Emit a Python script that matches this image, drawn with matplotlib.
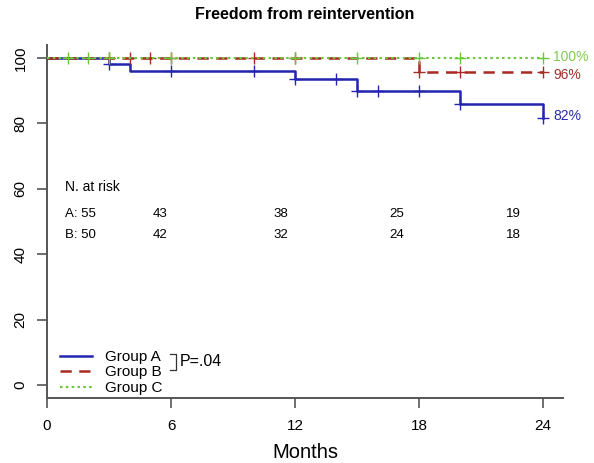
import matplotlib
matplotlib.use("Agg")
import matplotlib.pyplot as plt
from matplotlib.lines import Line2D

plt.rcParams['font.family'] = ['Liberation Sans', 'DejaVu Sans']

# ---- data ----
title = "Freedom from reintervention"
xlabel = "Months"
x_ticks = [0, 6, 12, 18, 24]
y_ticks = [0, 20, 40, 60, 80, 100]

# Group A (step curve)
a_times = [0, 3, 4, 12, 15, 20, 24]
a_surv = [100, 98.2, 95.9, 93.5, 90.0, 86.1, 81.6]
a_cens = [3, 6, 10, 12, 14, 15, 16, 18, 20, 24]

# Group B
b_times = [0, 18, 24]
b_surv = [100, 95.8, 95.8]
b_cens = [3, 4, 5, 6, 10, 12, 18, 20, 24]

# Group C
c_times = [0, 24]
c_surv = [100, 100]
c_cens = [1, 2, 3, 6, 12, 15, 18, 20, 24]

groups = ["Group A", "Group B", "Group C"]
final_labels = ["82%", "96%", "100%"]
final_values = [82.3, 94.8, 100.3]

risk_times = [0, 6, 12, 18, 24]
risk_A = [55, 43, 38, 25, 19]
risk_B = [50, 42, 32, 24, 18]
p_text = "P=.04"

# ---- style ----
col_a = "#2424b0"
col_b = "#a82a22"
col_c = "#6cc63a"
txt_a = "#2a2aaa"
txt_b = "#a0302a"
txt_c = "#80cc50"


def surv_at(times, surv, t):
    v = surv[0]
    for tt, s in zip(times, surv):
        if tt <= t:
            v = s
    return v


fig = plt.figure(figsize=(5.94, 4.63), dpi=100)
ax = fig.add_axes([47 / 594, 1 - 398 / 463, 516 / 594, 353 / 463])

ax.step(a_times, a_surv, where='post', color=col_a, lw=1.8, zorder=3)
ax.step(b_times, b_surv, where='post', color=col_b, lw=1.8, dashes=(4.5, 3), zorder=4)
ax.step(c_times, c_surv, where='post', color=col_c, lw=1.5, dashes=(1.2, 1.6), zorder=5)

ms = 9
ax.plot(a_cens, [surv_at(a_times, a_surv, t) for t in a_cens], ls='none', marker='+',
        ms=ms, mew=1.0, color=col_a, zorder=3)
ax.plot(b_cens, [surv_at(b_times, b_surv, t) for t in b_cens], ls='none', marker='+',
        ms=ms, mew=1.0, color=col_b, zorder=4)
ax.plot(c_cens, [surv_at(c_times, c_surv, t) for t in c_cens], ls='none', marker='+',
        ms=ms, mew=1.0, color=col_c, zorder=5)

ax.set_xlim(0, 24.96)
ax.set_ylim(-4, 104)
ax.set_xticks(x_ticks)
ax.set_yticks(y_ticks)
ax.set_yticklabels([str(v) for v in y_ticks], rotation=90, va='center')
ax.tick_params(axis='both', direction='out', length=7, width=1.2, colors='#555555',
               labelcolor='black', labelsize=11)
ax.tick_params(axis='y', pad=7)
ax.tick_params(axis='x', pad=8)
for s in ['top', 'right']:
    ax.spines[s].set_visible(False)
for s in ['left', 'bottom']:
    ax.spines[s].set_color('#555555')
    ax.spines[s].set_linewidth(1.4)

ax.set_title(title, fontsize=11.5, fontweight='bold', pad=19)
ax.set_xlabel(xlabel, fontsize=14.5, labelpad=7)

# final percentage labels
for lab, val, c in zip(final_labels, final_values, [txt_a, txt_b, txt_c]):
    ax.text(24.5, val, lab, color=c, fontsize=10, ha='left', va='center')

# numbers at risk
ax.text(0.87, 60.5, "N. at risk", fontsize=10, ha='left', va='center')
risk_offsets = [0.87, -0.55, -0.7, -1.1, -1.45]
for i, t in enumerate(risk_times):
    if i == 0:
        ax.text(t + risk_offsets[i], 52.2, f"A: {risk_A[i]}", fontsize=9.5, ha='left', va='center')
        ax.text(t + risk_offsets[i], 45.8, f"B: {risk_B[i]}", fontsize=9.5, ha='left', va='center')
    else:
        ax.text(t + risk_offsets[i], 52.2, str(risk_A[i]), fontsize=9.5, ha='center', va='center')
        ax.text(t + risk_offsets[i], 45.8, str(risk_B[i]), fontsize=9.5, ha='center', va='center')

# legend
handles = [
    Line2D([], [], color=col_a, lw=1.8),
    Line2D([], [], color=col_b, lw=1.8, dashes=(4.5, 3)),
    Line2D([], [], color=col_c, lw=1.5, dashes=(1.2, 1.6)),
]
leg = ax.legend(handles, groups, loc='lower left', bbox_to_anchor=(0.025, 0.0085),
                frameon=False, fontsize=11, handlelength=2.1, handletextpad=0.85,
                labelspacing=0.1, borderaxespad=0.0, borderpad=0.0)

# bracket and p-value
bx = 0.25
ax.plot([bx - 0.011, bx, bx, bx - 0.011], [0.1246, 0.1246, 0.0793, 0.0793],
        transform=ax.transAxes, color='#333333', lw=0.9)
ax.text(bx + 0.008, 0.102, p_text, transform=ax.transAxes, fontsize=11.5,
        ha='left', va='center')

fig.savefig("out.png", dpi=100)
